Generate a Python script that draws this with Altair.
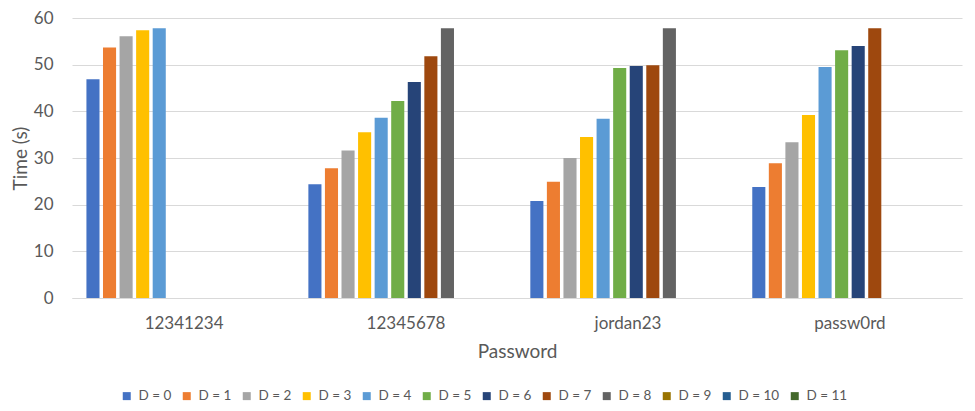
import altair as alt
import pandas as pd

passwords = ["12341234", "12345678", "jordan23", "passw0rd"]
series = ["D = 0", "D = 1", "D = 2", "D = 3", "D = 4", "D = 5",
          "D = 6", "D = 7", "D = 8", "D = 9", "D = 10", "D = 11"]
colors = ["#4472C4", "#ED7D31", "#A5A5A5", "#FFC000", "#5B9BD5", "#70AD47",
          "#264478", "#9E480E", "#636363", "#997300", "#255E91", "#43682B"]

times_12341234 = [46.9, 53.7, 56.1, 57.4, 57.8]
times_12345678 = [24.4, 27.8, 31.6, 35.5, 38.6, 42.2, 46.3, 51.8, 57.8]
times_jordan23 = [20.8, 24.9, 30.0, 34.5, 38.4, 49.3, 49.7, 49.9, 57.8]
times_passw0rd = [23.8, 28.9, 33.4, 39.2, 49.5, 53.1, 54.0, 57.8]

rows = []
for pw, vals in zip(passwords, [times_12341234, times_12345678, times_jordan23, times_passw0rd]):
    for i, v in enumerate(vals):
        rows.append({"Password": pw, "D": series[i], "Time": v})
df = pd.DataFrame(rows)

FONT = "Lato"
GREY = "#595959"

chart = alt.Chart(df).mark_bar().encode(
    x=alt.X("Password:N", sort=passwords,
            scale=alt.Scale(paddingInner=0.12, paddingOuter=0.065),
            axis=alt.Axis(title="Password", labelAngle=0, ticks=False, domain=True,
                          domainColor="#D9D9D9", labelPadding=17,
                          labelFontSize=17, titleFontSize=19,
                          titleX=445, titleY=59, titleAlign="center",
                          titleBaseline="alphabetic")),
    xOffset=alt.XOffset("D:N", sort=series,
                        scale=alt.Scale(domain=series, paddingInner=0.21, paddingOuter=0)),
    y=alt.Y("Time:Q", scale=alt.Scale(domain=[0, 60]),
            axis=alt.Axis(title="Time (s)", values=[0, 10, 20, 30, 40, 50, 60],
                          ticks=False, domain=False, gridColor="#D9D9D9",
                          labelPadding=19, labelFontSize=17, titleFontSize=19,
                          titleX=-52, titleY=140, titleAngle=-90,
                          titleAlign="center", titleBaseline="middle")),
    color=alt.Color("D:N", sort=series,
                    scale=alt.Scale(domain=series, range=colors),
                    legend=alt.Legend(title=None, orient="none", direction="horizontal",
                                      legendX=48, legendY=371, columns=12,
                                      symbolType="square", symbolSize=64,
                                      symbolStrokeWidth=0, labelFontSize=13.5,
                                      columnPadding=8, labelOffset=5)),
).properties(
    width=890, height=280,
    autosize=alt.AutoSizeParams(type="none"),
    padding={"left": 64, "top": 10, "right": 5, "bottom": 112},
).configure_view(stroke=None).configure_axis(
    labelFont=FONT, titleFont=FONT, labelColor=GREY, titleColor=GREY,
    titleFontWeight="normal", grid=True,
).configure_axisX(grid=False).configure_legend(
    labelFont=FONT, labelColor=GREY,
)

chart.save("out.html", embed_options={"renderer": "svg", "actions": False})
